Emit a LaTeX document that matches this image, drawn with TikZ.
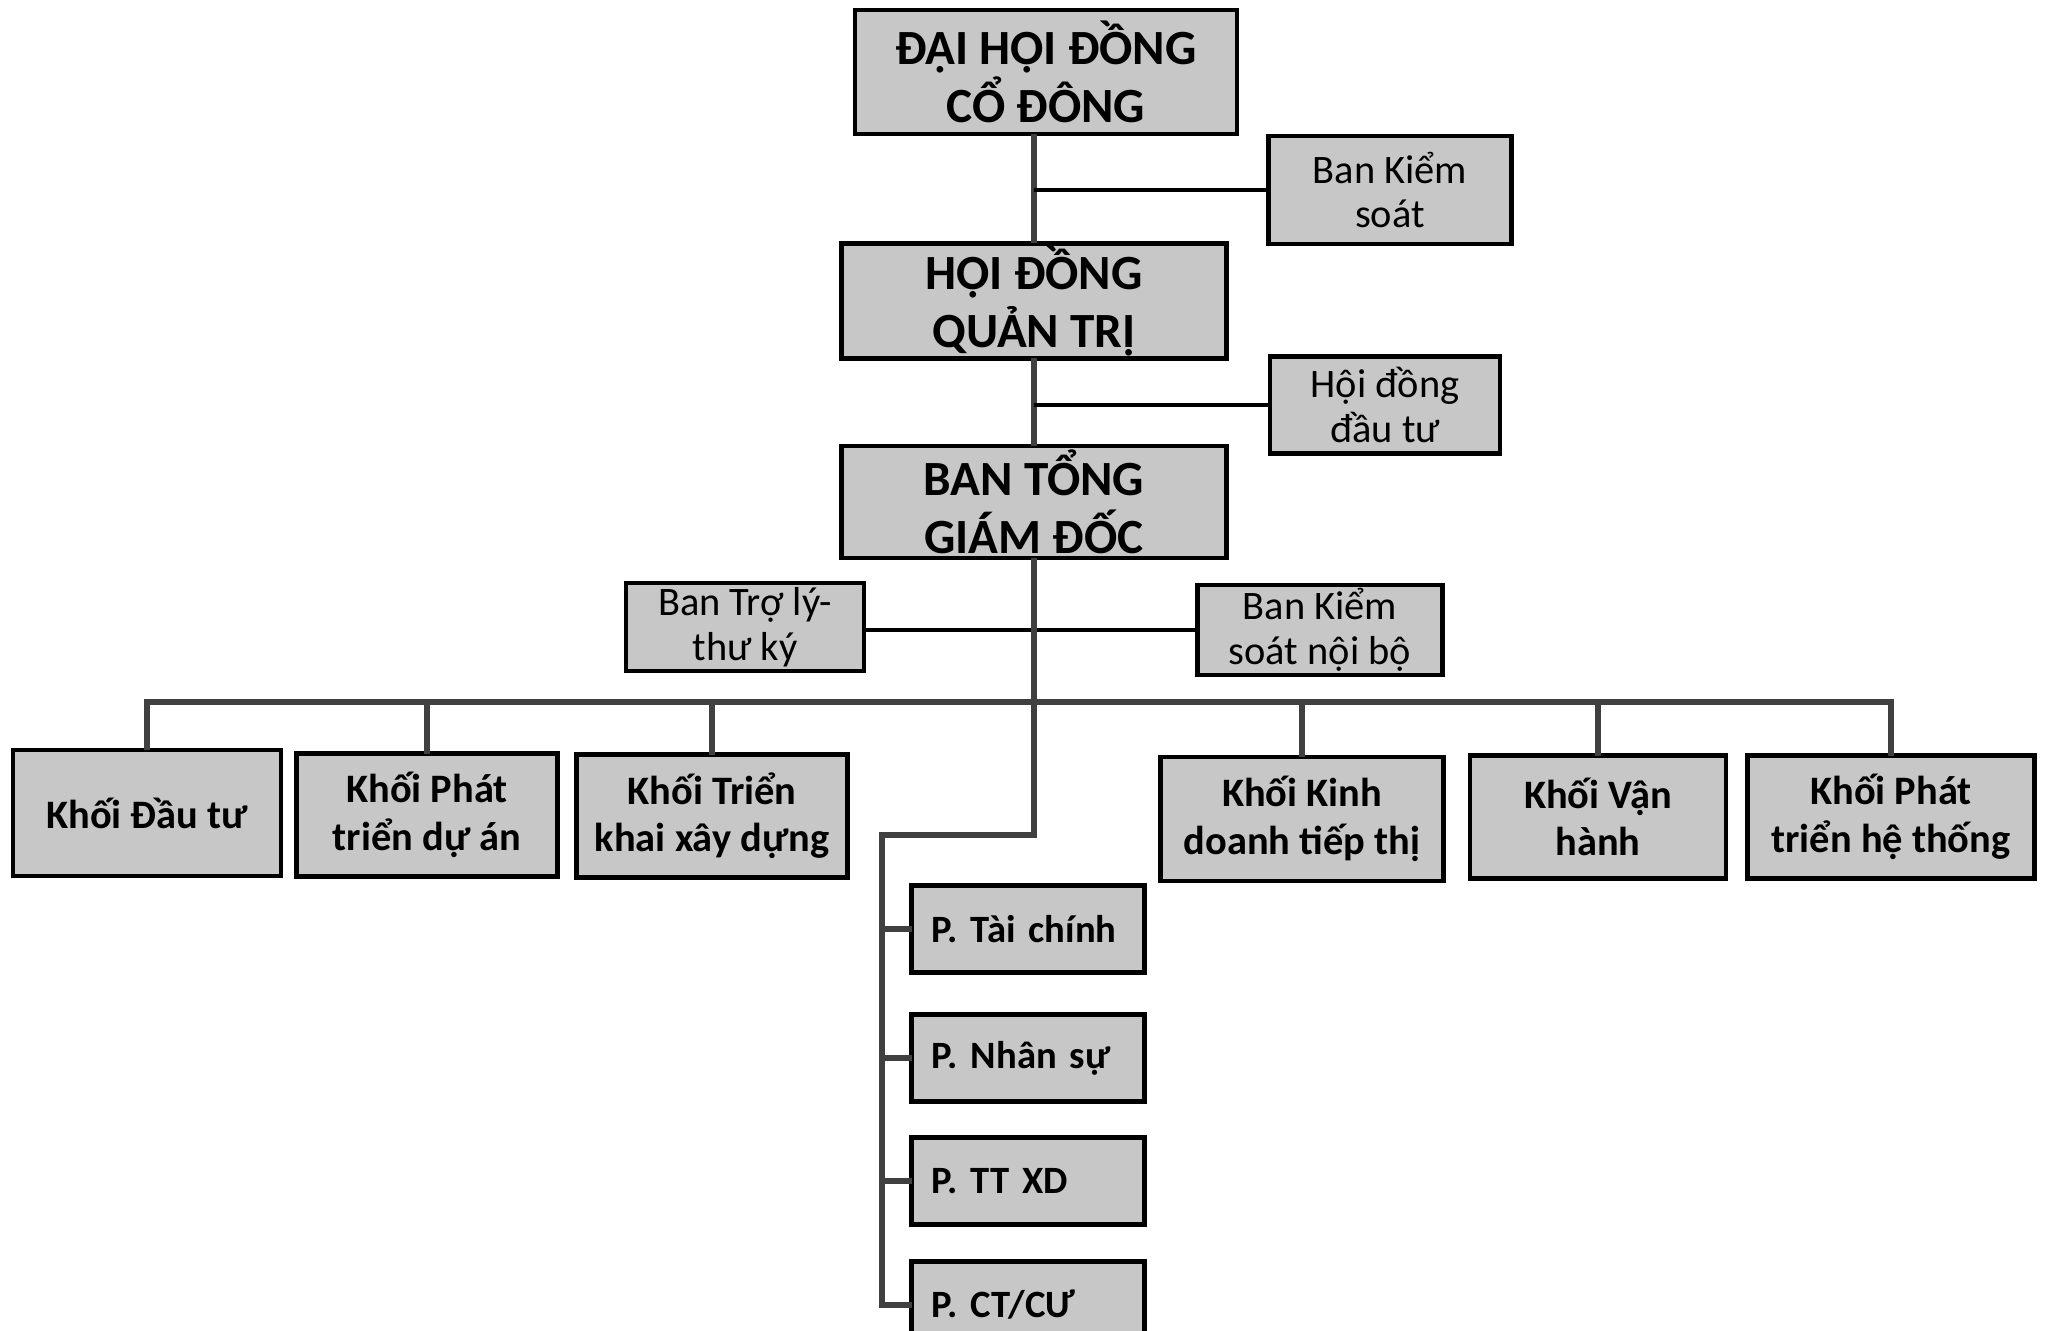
\documentclass[tikz,border=0pt]{standalone}
\usepackage{fontspec}
\setmainfont{Carlito}
\usepackage{xcolor}
\begin{document}
\begin{tikzpicture}[
  box/.style={draw=black, line width=1.2pt, fill=black!22, inner sep=0pt, outer sep=0pt, align=center},
  head/.style={box, minimum width=3.85cm, font=\fontsize{14}{16.5}\selectfont\bfseries},
  side/.style={box, font=\fontsize{11.5}{12.8}\selectfont},
  unit/.style={box, minimum height=1.23cm, font=\fontsize{11.5}{13.5}\selectfont\bfseries},
  dept/.style={box, minimum height=0.87cm, inner xsep=0.2cm, text width=1.93cm, align=left, font=\fontsize{11}{13}\selectfont\bfseries},
  link/.style={draw=black!75, line width=1.5pt},
  tie/.style={draw=black, line width=1.1pt}
]
\useasboundingbox (0,0) rectangle (20.46,-13.31);
\clip (0,0) rectangle (20.46,-13.31);

\node[head, minimum width=3.82cm, minimum height=1.24cm] (dhdcd) at (10.46,-0.72) {ĐẠI HỘI ĐỒNG\\CỔ ĐÔNG};
\node[side, minimum width=2.43cm, minimum height=1.08cm] (bks) at (13.9,-1.9) {Ban Kiểm\\soát};
\node[head, minimum height=1.15cm] (hdqt) at (10.34,-3.01) {HỘI ĐỒNG\\QUẢN TRỊ};
\node[side, minimum width=2.3cm, minimum height=0.97cm] (hddt) at (13.85,-4.05) {Hội đồng\\đầu tư};
\node[head, minimum height=1.12cm] (btgd) at (10.34,-5.02) {BAN TỔNG\\GIÁM ĐỐC};
\node[side, minimum width=2.38cm, minimum height=0.88cm] (btl) at (7.45,-6.27) {Ban Trợ lý-\\thư ký};
\node[side, minimum width=2.45cm, minimum height=0.9cm] (ksnb) at (13.2,-6.3) {Ban Kiểm\\soát nội bộ};
\coordinate (bus) at (10.34,-7.02);

\node[unit, minimum width=2.68cm, minimum height=1.26cm] (kdt) at (1.47,-8.13) {Khối Đầu tư};
\node[unit, minimum width=2.61cm] (kda) at (4.27,-8.15) {Khối Phát\\triển dự án};
\node[unit, minimum width=2.71cm] (kxd) at (7.12,-8.16) {Khối Triển\\khai xây dựng};
\node[unit, minimum width=2.83cm, minimum height=1.24cm] (kkd) at (13.02,-8.19) {Khối Kinh\\doanh tiếp thị};
\node[unit, minimum width=2.56cm] (kvh) at (15.98,-8.17) {Khối Vận\\hành};
\node[unit, minimum width=2.87cm] (kht) at (18.91,-8.17) {Khối Phát\\triển hệ thống};

\coordinate (bend) at (8.82,-8.35);
\node[dept] (ptc) at (10.28,-9.29) {P.~Tài chính};
\node[dept] (pns) at (10.28,-10.58) {P.~Nhân sự};
\node[dept] (ptt) at (10.28,-11.81) {P.~TT XD};
\node[dept] (pct) at (10.28,-13.05) {P.~CT/CƯ};

\draw[link] (hdqt.north |- dhdcd.south) -- (hdqt.north);
\draw[link] (hdqt.south) -- (btgd.north);
\draw[tie] (bks.west) -- (bks.west -| hdqt.north);
\draw[tie] (hddt.west) -- (hddt.west -| hdqt.south);
\draw[tie] (btl.east |- ksnb.west) -- (ksnb.west);
\draw[link] (btgd.south) |- (bend) -- (bend |- pct.west) -- (pct.west);
\draw[link] (kdt.north) -- (kdt.north |- bus) -- (kht.north |- bus) -- (kht.north);
\foreach \k in {kda,kxd,kkd,kvh} \draw[link] (\k.north) -- (\k.north |- bus);
\foreach \p in {ptc,pns,ptt} \draw[link] (\p.west) -- (\p.west -| bend);

\end{tikzpicture}
\end{document}
